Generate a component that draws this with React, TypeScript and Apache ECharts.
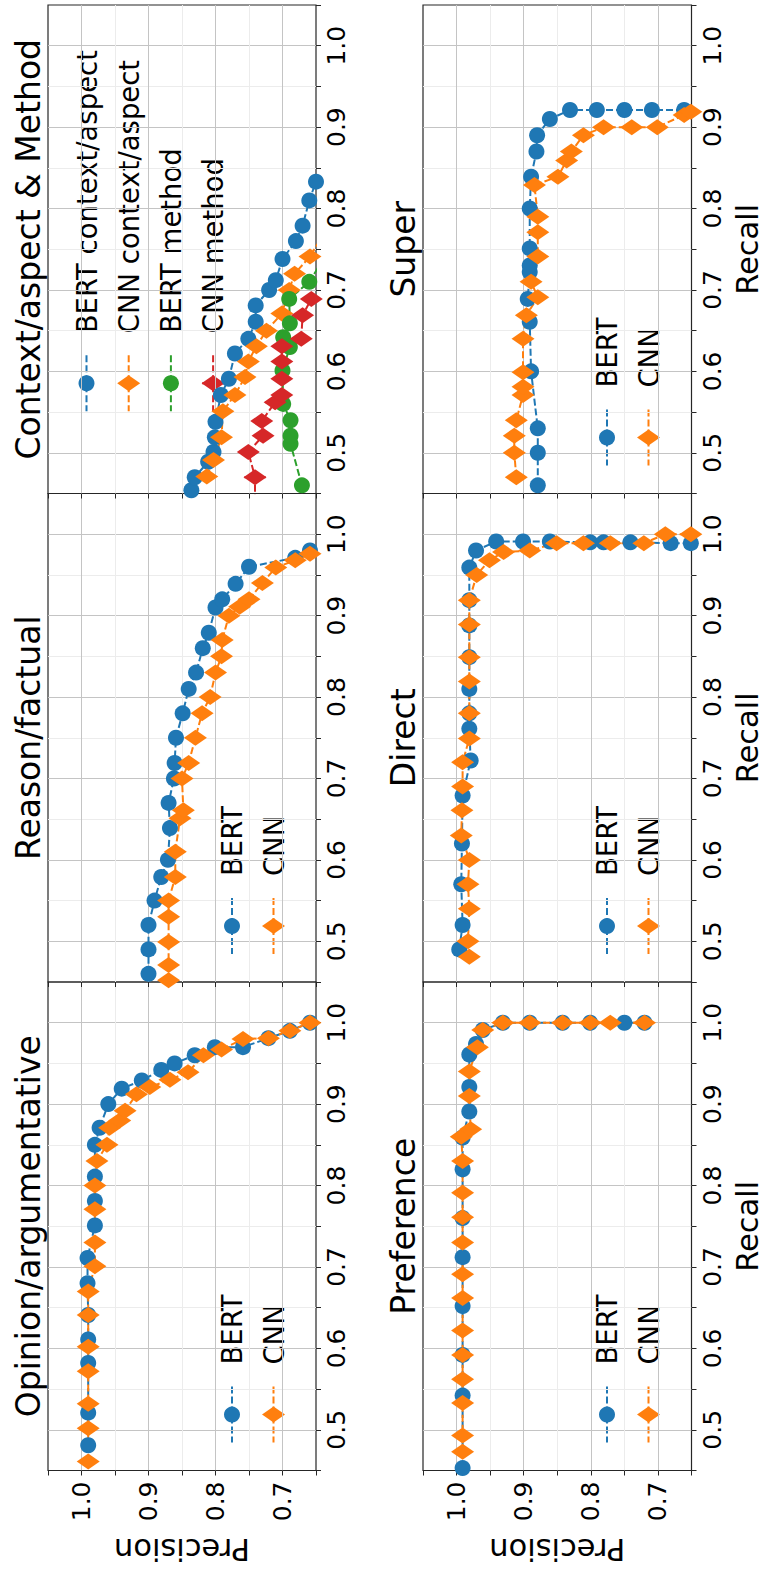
import React, { useEffect, useRef } from 'react';
import * as echarts from 'echarts';

const FONT = '"DejaVu Sans", "Liberation Sans", sans-serif';
const BLUE = '#1f77b4';
const ORANGE = '#ff7f0e';
const GREEN = '#2ca02c';
const RED = '#d62728';

// tick labels
const precisionTickLabels = [0.7, 0.8, 0.9, 1.0];
const recallTickLabels = [0.5, 0.6, 0.7, 0.8, 0.9, 1.0];

// data points: [recall, precision]
const opinionBert = [
  [0.481, 0.99], [0.521, 0.99], [0.582, 0.99], [0.611, 0.99], [0.641, 0.99], [0.680, 0.991],
  [0.711, 0.991], [0.751, 0.980], [0.781, 0.980], [0.811, 0.980], [0.850, 0.980], [0.871, 0.973],
  [0.900, 0.960], [0.919, 0.940], [0.929, 0.910], [0.942, 0.881], [0.950, 0.861], [0.960, 0.831],
  [0.970, 0.801], [0.970, 0.759], [0.981, 0.721], [0.990, 0.689], [1.0, 0.659],
];
const opinionCnn = [
  [0.461, 0.99], [0.502, 0.99], [0.532, 0.99], [0.572, 0.99], [0.602, 0.99], [0.641, 0.99],
  [0.670, 0.99], [0.701, 0.98], [0.730, 0.98], [0.771, 0.98], [0.800, 0.98], [0.830, 0.977],
  [0.850, 0.962], [0.871, 0.958], [0.880, 0.943], [0.892, 0.935], [0.912, 0.918], [0.921, 0.898],
  [0.930, 0.868], [0.939, 0.841], [0.960, 0.818], [0.967, 0.791], [0.980, 0.759], [0.981, 0.721],
  [0.990, 0.689], [1.0, 0.659],
];
const reasonBert = [
  [0.460, 0.900], [0.490, 0.900], [0.520, 0.900], [0.550, 0.891], [0.579, 0.881], [0.600, 0.871],
  [0.639, 0.868], [0.670, 0.870], [0.700, 0.862], [0.719, 0.861], [0.750, 0.859], [0.780, 0.849],
  [0.810, 0.840], [0.830, 0.829], [0.860, 0.819], [0.879, 0.810], [0.910, 0.800], [0.920, 0.790],
  [0.939, 0.770], [0.960, 0.750], [0.971, 0.681], [0.980, 0.659],
];
const reasonCnn = [
  [0.452, 0.870], [0.471, 0.870], [0.499, 0.870], [0.530, 0.870], [0.550, 0.870], [0.579, 0.860],
  [0.610, 0.860], [0.651, 0.853], [0.661, 0.848], [0.700, 0.850], [0.719, 0.840], [0.750, 0.830],
  [0.780, 0.820], [0.800, 0.808], [0.830, 0.800], [0.850, 0.791], [0.870, 0.790], [0.900, 0.780],
  [0.911, 0.764], [0.920, 0.750], [0.940, 0.730], [0.959, 0.710], [0.968, 0.681], [0.976, 0.659],
];
const contextBert = [
  [0.454, 0.836], [0.470, 0.831], [0.489, 0.811], [0.501, 0.803], [0.519, 0.801], [0.538, 0.800],
  [0.571, 0.792], [0.591, 0.780], [0.622, 0.771], [0.640, 0.751], [0.661, 0.740], [0.681, 0.740],
  [0.700, 0.720], [0.712, 0.710], [0.738, 0.700], [0.760, 0.680], [0.779, 0.670], [0.810, 0.660],
  [0.833, 0.650], [0.850, 0.640],
];
const contextCnn = [
  [0.471, 0.813], [0.491, 0.803], [0.519, 0.791], [0.551, 0.789], [0.571, 0.771], [0.593, 0.756],
  [0.612, 0.751], [0.631, 0.739], [0.650, 0.724], [0.671, 0.701], [0.700, 0.690], [0.720, 0.682],
  [0.741, 0.659], [0.760, 0.645],
];
const methodBert = [
  [0.460, 0.671], [0.511, 0.688], [0.521, 0.688], [0.540, 0.688], [0.560, 0.699], [0.601, 0.700],
  [0.630, 0.689], [0.642, 0.699], [0.659, 0.689], [0.689, 0.690], [0.710, 0.660], [0.730, 0.645],
];
const methodCnn = [
  [0.440, 0.741], [0.470, 0.741], [0.501, 0.751], [0.521, 0.729], [0.539, 0.731], [0.562, 0.711],
  [0.571, 0.701], [0.591, 0.701], [0.612, 0.701], [0.631, 0.701], [0.640, 0.672], [0.669, 0.670],
  [0.689, 0.657],
];
const methodCnnErr = [0.014, 0.016, 0.014, 0.012, 0.013, 0.015, 0.012, 0.013, 0.012, 0.012, 0.014, 0.013, 0.012];
const preferenceBert = [
  [0.453, 0.991], [0.542, 0.991], [0.592, 0.991], [0.652, 0.991], [0.712, 0.991], [0.760, 0.991],
  [0.820, 0.991], [0.859, 0.991], [0.891, 0.981], [0.921, 0.981], [0.961, 0.981], [0.974, 0.971],
  [0.991, 0.961], [1.0, 0.931], [1.0, 0.891], [1.0, 0.842], [1.0, 0.801], [1.0, 0.750], [1.0, 0.720],
];
const preferenceCnn = [
  [0.473, 0.991], [0.493, 0.991], [0.533, 0.991], [0.562, 0.991], [0.592, 0.991], [0.622, 0.991],
  [0.662, 0.991], [0.691, 0.991], [0.730, 0.991], [0.761, 0.991], [0.791, 0.991], [0.830, 0.991],
  [0.860, 0.993], [0.869, 0.979], [0.910, 0.981], [0.940, 0.981], [0.970, 0.969], [0.991, 0.961],
  [1.0, 0.931], [1.0, 0.891], [1.0, 0.842], [1.0, 0.801], [1.0, 0.771], [1.0, 0.720],
];
const directBert = [
  [0.490, 0.996], [0.520, 0.991], [0.570, 0.993], [0.620, 0.992], [0.679, 0.991], [0.722, 0.979],
  [0.761, 0.981], [0.780, 0.981], [0.810, 0.981], [0.849, 0.981], [0.888, 0.981], [0.919, 0.981],
  [0.959, 0.981], [0.980, 0.971], [0.991, 0.941], [0.991, 0.901], [0.991, 0.861], [0.990, 0.801],
  [0.990, 0.781], [0.990, 0.741], [0.989, 0.681], [0.989, 0.651],
];
const directCnn = [
  [0.481, 0.981], [0.500, 0.983], [0.540, 0.981], [0.570, 0.983], [0.600, 0.981], [0.630, 0.993],
  [0.661, 0.992], [0.690, 0.991], [0.720, 0.991], [0.749, 0.981], [0.780, 0.981], [0.819, 0.981],
  [0.849, 0.981], [0.889, 0.981], [0.919, 0.981], [0.950, 0.970], [0.968, 0.951], [0.978, 0.930],
  [0.980, 0.891], [0.989, 0.851], [0.989, 0.811], [0.989, 0.771], [0.989, 0.721], [1.0, 0.689],
  [1.0, 0.651],
];
const superBert = [
  [0.460, 0.879], [0.500, 0.879], [0.530, 0.879], [0.600, 0.889], [0.661, 0.891], [0.689, 0.894],
  [0.722, 0.891], [0.730, 0.891], [0.751, 0.891], [0.800, 0.891], [0.839, 0.889], [0.870, 0.881],
  [0.890, 0.880], [0.910, 0.861], [0.921, 0.831], [0.921, 0.791], [0.921, 0.750], [0.921, 0.709],
  [0.921, 0.661],
];
const superCnn = [
  [0.470, 0.911], [0.500, 0.914], [0.521, 0.914], [0.540, 0.911], [0.571, 0.901], [0.581, 0.901],
  [0.599, 0.901], [0.640, 0.901], [0.669, 0.896], [0.691, 0.879], [0.710, 0.889], [0.741, 0.879],
  [0.771, 0.879], [0.790, 0.879], [0.829, 0.884], [0.839, 0.849], [0.859, 0.836], [0.870, 0.829],
  [0.890, 0.811], [0.900, 0.781], [0.900, 0.739], [0.900, 0.701], [0.915, 0.661], [0.919, 0.651],
];

type S = { name: string; data: number[][]; color: string; marker: 'circle' | 'diamond'; err?: number[] };
type P = { title: string; row: number; col: number; series: S[] };

const panels: P[] = [
  {
    title: 'Context/aspect & Method', row: 0, col: 0, series: [
      { name: 'BERT context/aspect', data: contextBert, color: BLUE, marker: 'circle' },
      { name: 'CNN context/aspect', data: contextCnn, color: ORANGE, marker: 'diamond' },
      { name: 'BERT method', data: methodBert, color: GREEN, marker: 'circle' },
      { name: 'CNN method', data: methodCnn, color: RED, marker: 'diamond', err: methodCnnErr },
    ],
  },
  { title: 'Reason/factual', row: 1, col: 0, series: [
    { name: 'BERT', data: reasonBert, color: BLUE, marker: 'circle' },
    { name: 'CNN', data: reasonCnn, color: ORANGE, marker: 'diamond' },
  ] },
  { title: 'Opinion/argumentative', row: 2, col: 0, series: [
    { name: 'BERT', data: opinionBert, color: BLUE, marker: 'circle' },
    { name: 'CNN', data: opinionCnn, color: ORANGE, marker: 'diamond' },
  ] },
  { title: 'Super', row: 0, col: 1, series: [
    { name: 'BERT', data: superBert, color: BLUE, marker: 'circle' },
    { name: 'CNN', data: superCnn, color: ORANGE, marker: 'diamond' },
  ] },
  { title: 'Direct', row: 1, col: 1, series: [
    { name: 'BERT', data: directBert, color: BLUE, marker: 'circle' },
    { name: 'CNN', data: directCnn, color: ORANGE, marker: 'diamond' },
  ] },
  { title: 'Preference', row: 2, col: 1, series: [
    { name: 'BERT', data: preferenceBert, color: BLUE, marker: 'circle' },
    { name: 'CNN', data: preferenceCnn, color: ORANGE, marker: 'diamond' },
  ] },
];

// layout (rotated figure)
const COL_LEFT = [48, 423];
const COL_WIDTH = [268, 268.5];
const ROW_TOP = [5, 493.5, 982];
const ROW_HEIGHT = 488.5;

const MAJOR = '#c4c4c4';
const MINOR = '#ececec';
const CIRCLE_SIZE = 16;
const DIAMOND_SIZE = [23, 16];
const LEG_FONT = 27.5;

const isTick = (v: number, list: number[]) => list.some((t) => Math.abs(t - v) < 1e-6);

function buildOption() {
  const grids: any[] = [];
  const xAxes: any[] = [];
  const yAxes: any[] = [];
  const series: any[] = [];
  const graphics: any[] = [];

  panels.forEach((p, i) => {
    const left = COL_LEFT[p.col];
    const width = COL_WIDTH[p.col];
    const top = ROW_TOP[p.row];
    const height = ROW_HEIGHT;
    const bottomRow = p.row === 2;
    grids.push({
      left, top, width, height, show: true, borderColor: '#262626', borderWidth: 1.2,
      backgroundColor: 'transparent', containLabel: false, outerBoundsMode: 'none',
    });
    xAxes.push({
      gridIndex: i, type: 'value', inverse: true, min: 0.65, max: 1.05, interval: 0.05,
      position: 'bottom',
      axisLine: { show: false },
      axisTick: { show: true, inside: false, length: 5, lineStyle: { color: '#262626', width: 1 } },
      axisLabel: {
        show: bottomRow, rotate: 90, margin: 11, fontSize: 25, color: '#000', fontFamily: FONT,
        hideOverlap: false, showMinLabel: true, showMaxLabel: true,
        formatter: (v: number) => (isTick(v, precisionTickLabels) ? v.toFixed(1) : ''),
      },
      splitLine: { show: true, showMinLine: false, showMaxLine: false, lineStyle: { color: [MAJOR, MINOR], width: 1 } },
    });
    yAxes.push({
      gridIndex: i, type: 'value', min: 0.45, max: 1.05, interval: 0.05,
      position: 'right',
      axisLine: { show: false },
      axisTick: { show: true, inside: false, length: 5, lineStyle: { color: '#262626', width: 1 } },
      axisLabel: {
        show: true, rotate: 90, margin: 8, fontSize: 25, color: '#000', fontFamily: FONT,
        hideOverlap: false, showMinLabel: true, showMaxLabel: true,
        formatter: (v: number) => (isTick(v, recallTickLabels) ? v.toFixed(1) : ''),
      },
      splitLine: { show: true, showMinLine: false, showMaxLine: false, lineStyle: { color: [MAJOR, MINOR], width: 1 } },
    });

    p.series.forEach((s) => {
      if (s.err) {
        const errData = s.data.map(([r, pr], k) => [pr, r, s.err![k]]);
        series.push({
          type: 'custom', xAxisIndex: i, yAxisIndex: i, data: errData, silent: true,
          encode: { x: 0, y: 1 }, clip: true,
          renderItem: (params: any, api: any) => {
            const pr = api.value(0);
            const r = api.value(1);
            const e = api.value(2);
            const a = api.coord([pr - e, r]);
            const b = api.coord([pr + e, r]);
            return {
              type: 'line',
              shape: { x1: a[0], y1: a[1], x2: b[0], y2: b[1] },
              style: { stroke: s.color, lineWidth: 2 },
            };
          },
        });
      }
      series.push({
        type: 'line', name: s.name, xAxisIndex: i, yAxisIndex: i,
        data: s.data.map(([r, pr]) => [pr, r]),
        symbol: s.marker === 'circle' ? 'circle' : 'diamond',
        symbolSize: s.marker === 'circle' ? CIRCLE_SIZE : DIAMOND_SIZE,
        showSymbol: true, clip: true, silent: true,
        itemStyle: { color: s.color, borderWidth: 0, opacity: 1 },
        lineStyle: { color: s.color, width: 2, type: [7, 3] },
        emphasis: { disabled: true },
      });
    });

    // title (rotated)
    graphics.push({
      type: 'text', x: left - 19.5, y: top + height / 2, rotation: Math.PI / 2,
      style: { text: p.title, fontSize: 33, fontFamily: FONT, fill: '#000', align: 'center', verticalAlign: 'middle' },
    });

    // legend
    const many = p.series.length > 2;
    p.series.forEach((s, k) => {
      const mx = many ? left + 38.5 + 42.2 * k : left + 184 + 41.5 * k;
      const my = many ? top + 378.3 : top + 432.6;
      graphics.push({
        type: 'line', shape: { x1: mx, y1: my - 28, x2: mx, y2: my + 28 },
        style: { stroke: s.color, lineWidth: 2, lineDash: [7, 3] },
      });
      if (s.err) {
        graphics.push({ type: 'line', shape: { x1: mx - 11, y1: my, x2: mx + 11, y2: my }, style: { stroke: s.color, lineWidth: 2 } });
      }
      if (s.marker === 'circle') {
        graphics.push({ type: 'circle', shape: { cx: mx, cy: my, r: CIRCLE_SIZE / 2 }, style: { fill: s.color } });
      } else {
        const hw = DIAMOND_SIZE[0] / 2;
        const hh = DIAMOND_SIZE[1] / 2;
        graphics.push({
          type: 'polygon',
          shape: { points: [[mx - hw, my], [mx, my - hh], [mx + hw, my], [mx, my + hh]] },
          style: { fill: s.color },
        });
      }
      graphics.push({
        type: 'text', x: mx, y: my - 28 - 22, rotation: Math.PI / 2,
        style: { text: s.name, fontSize: LEG_FONT, fontFamily: FONT, fill: '#000', align: 'left', verticalAlign: 'middle' },
      });
    });

    if (bottomRow) {
      graphics.push({
        type: 'text', x: left + width / 2, y: 1549, rotation: Math.PI,
        style: { text: 'Precision', fontSize: 30.5, fontFamily: FONT, fill: '#000', align: 'center', verticalAlign: 'middle' },
      });
    }
    if (p.col === 1) {
      graphics.push({
        type: 'text', x: 747, y: top + height / 2, rotation: Math.PI / 2,
        style: { text: 'Recall', fontSize: 30.5, fontFamily: FONT, fill: '#000', align: 'center', verticalAlign: 'middle' },
      });
    }
  });

  return {
    animation: false,
    backgroundColor: '#ffffff',
    textStyle: { fontFamily: FONT },
    grid: grids,
    xAxis: xAxes,
    yAxis: yAxes,
    series,
    graphic: graphics,
  };
}

export default function App() {
  const ref = useRef<HTMLDivElement>(null);
  useEffect(() => {
    document.body.style.margin = '0';
    const chart = echarts.init(ref.current!, null, { renderer: 'svg' });
    chart.setOption(buildOption() as any);
    return () => chart.dispose();
  }, []);
  return <div ref={ref} style={{ position: 'absolute', left: 0, top: 0, width: 763, height: 1569 }} />;
}
